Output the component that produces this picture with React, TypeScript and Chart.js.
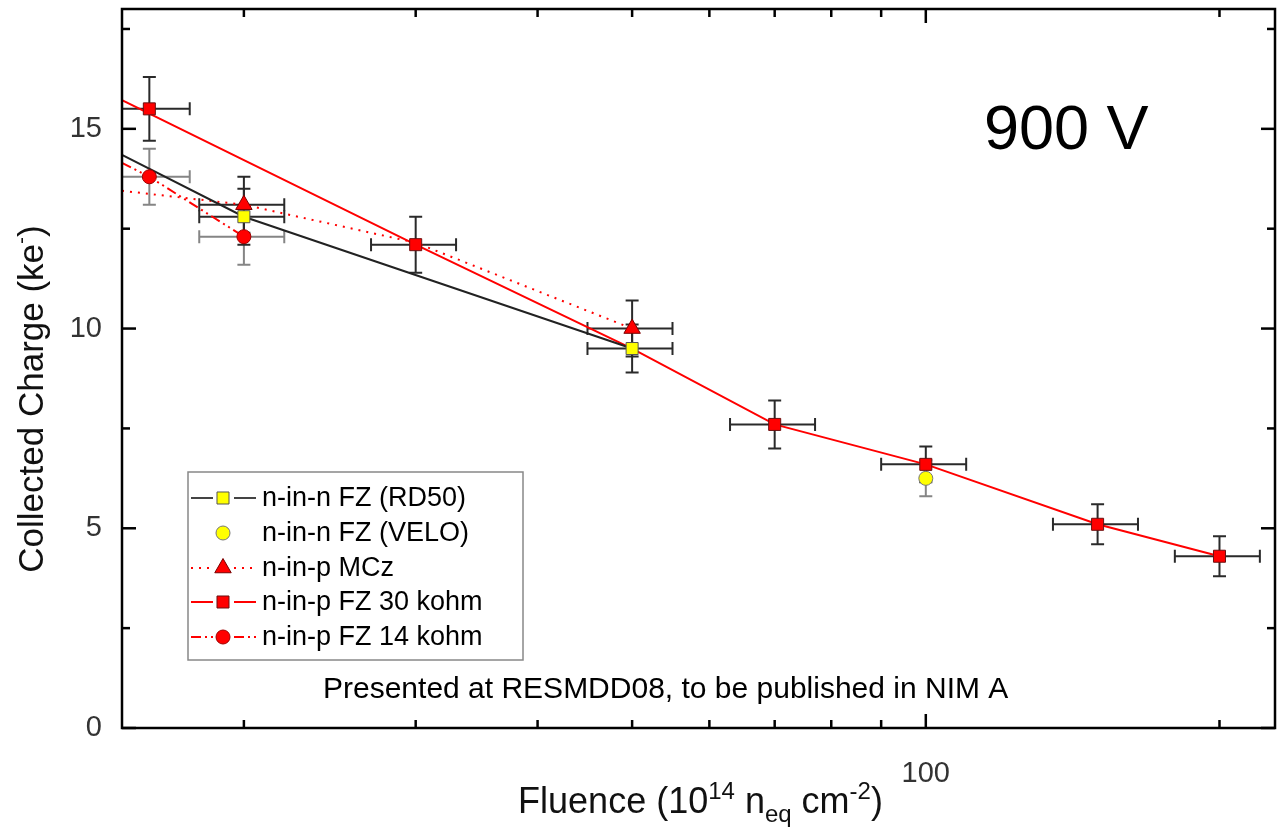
import React, { useEffect, useRef } from "react";
import { Chart, registerables } from "chart.js";
Chart.register(...registerables);

const FONT = '"Liberation Sans", Arial, Helvetica, sans-serif';

// axis ranges
const xMin = 15;
const xMax = 228;
const yMin = 0;
const yMax = 18;

// tick positions and labels
const yMajorTicks = [0, 5, 10, 15];
const yMinorTicks = [2.5, 7.5, 12.5, 17.5];
const yTickLabels = ["0", "5", "10", "15"];
const xMajorTicks = [100];
const xMinorTicks = [20, 30, 40, 50, 60, 70, 80, 90, 200];
const xTickLabels = ["100"];

// n-in-n FZ (RD50)
const rd50X = [20, 50];
const rd50Y = [12.8, 9.5];
const rd50XErr = [2, 5];
const rd50YErr = [0.7, 0.6];
const rd50LineX = [15, 20, 50];
const rd50LineY = [14.35, 12.8, 9.5];

// n-in-n FZ (VELO)
const veloX = [100];
const veloY = [6.25];
const veloXErr = [0];
const veloYErr = [0.45];

// n-in-p MCz
const mczX = [20, 50];
const mczY = [13.1, 10.0];
const mczXErr = [2, 5];
const mczYErr = [0.7, 0.7];
const mczLineX = [15, 20, 30, 50];
const mczLineY = [13.45, 13.1, 12.15, 10.0];

// n-in-p FZ 30 kohm
const fz30X = [16, 30, 70, 100, 150, 200];
const fz30Y = [15.5, 12.1, 7.6, 6.6, 5.1, 4.3];
const fz30XErr = [1.6, 3, 7, 10, 15, 20];
const fz30YErr = [0.8, 0.7, 0.6, 0.45, 0.5, 0.5];
const fz30LineX = [15, 30, 50, 70, 100, 150, 200];
const fz30LineY = [15.72, 12.1, 9.5, 7.6, 6.6, 5.1, 4.3];

// n-in-p FZ 14 kohm
const fz14X = [16, 20];
const fz14Y = [13.8, 12.3];
const fz14XErr = [1.6, 2];
const fz14YErr = [0.7, 0.7];
const fz14LineX = [15, 16, 20];
const fz14LineY = [14.15, 13.8, 12.3];

const legendLabels = [
  "n-in-n FZ (RD50)",
  "n-in-n FZ (VELO)",
  "n-in-p MCz",
  "n-in-p FZ 30 kohm",
  "n-in-p FZ 14 kohm",
];

const RED = "#ff0000";
const YELLOW = "#ffff00";
const DARK = "#2a2a2a";
const GRAY = "#858585";

// target plot-area edges in the 1278x829 page
const AREA = { left: 122, top: 9, right: 1275, bottom: 728 };

const pts = (xs: number[], ys: number[]) => xs.map((x, i) => ({ x, y: ys[i] }));

const errorSeries = [
  { x: fz14X, y: fz14Y, xe: fz14XErr, ye: fz14YErr, color: GRAY },
  { x: fz30X, y: fz30Y, xe: fz30XErr, ye: fz30YErr, color: DARK },
  { x: mczX, y: mczY, xe: mczXErr, ye: mczYErr, color: DARK },
  { x: veloX, y: veloY, xe: veloXErr, ye: veloYErr, color: GRAY },
  { x: rd50X, y: rd50Y, xe: rd50XErr, ye: rd50YErr, color: DARK },
];

type Marker = { style: string; r: number; fill: string; edge: string };
const markers: Marker[] = [
  { style: "rect", r: 8.5, fill: YELLOW, edge: "#555555" },
  { style: "circle", r: 7, fill: YELLOW, edge: "#777777" },
  { style: "triangle", r: 9.5, fill: RED, edge: "#7a0000" },
  { style: "rect", r: 8.5, fill: RED, edge: "#6a1010" },
  { style: "circle", r: 7, fill: RED, edge: "#a00000" },
];
const legendLines: (null | { color: string; dash: number[] })[] = [
  { color: "#444444", dash: [] },
  null,
  { color: RED, dash: [2, 6] },
  { color: RED, dash: [] },
  { color: RED, dash: [10, 4, 2, 4, 2, 4] },
];

function drawMarker(ctx: CanvasRenderingContext2D, m: Marker, x: number, y: number) {
  ctx.save();
  ctx.fillStyle = m.fill;
  ctx.strokeStyle = m.edge;
  ctx.lineWidth = 1;
  ctx.setLineDash([]);
  ctx.beginPath();
  if (m.style === "rect") {
    const s = Math.SQRT1_2 * m.r;
    ctx.rect(x - s, y - s, 2 * s, 2 * s);
  } else if (m.style === "circle") {
    ctx.arc(x, y, m.r, 0, Math.PI * 2);
  } else {
    ctx.moveTo(x, y - m.r);
    ctx.lineTo(x + m.r * Math.sin(Math.PI / 3), y + m.r / 2);
    ctx.lineTo(x - m.r * Math.sin(Math.PI / 3), y + m.r / 2);
    ctx.closePath();
  }
  ctx.fill();
  ctx.stroke();
  ctx.restore();
}

type Part = { t: string; s: number; dy: number };
function drawRich(ctx: CanvasRenderingContext2D, parts: Part[], x: number, y: number, align: "left" | "center") {
  let total = 0;
  for (const p of parts) {
    ctx.font = `${p.s}px ${FONT}`;
    total += ctx.measureText(p.t).width;
  }
  let cx = align === "center" ? x - total / 2 : x;
  ctx.textAlign = "left";
  ctx.textBaseline = "alphabetic";
  for (const p of parts) {
    ctx.font = `${p.s}px ${FONT}`;
    ctx.fillText(p.t, cx, y + p.dy);
    cx += ctx.measureText(p.t).width;
  }
}

const errorBarPlugin = {
  id: "errorBars",
  beforeDatasetsDraw(chart: any) {
    const { ctx, chartArea: a, scales } = chart;
    const xs = scales.x;
    const ys = scales.y;
    ctx.save();
    ctx.beginPath();
    ctx.rect(a.left, a.top, a.right - a.left, a.bottom - a.top);
    ctx.clip();
    ctx.lineWidth = 2;
    const cap = 6.5;
    for (const s of errorSeries) {
      ctx.strokeStyle = s.color;
      s.x.forEach((xv: number, i: number) => {
        const px = xs.getPixelForValue(xv);
        const py = ys.getPixelForValue(s.y[i]);
        const yt = ys.getPixelForValue(s.y[i] + s.ye[i]);
        const yb = ys.getPixelForValue(s.y[i] - s.ye[i]);
        ctx.beginPath();
        ctx.moveTo(px, yt);
        ctx.lineTo(px, yb);
        ctx.moveTo(px - cap, yt);
        ctx.lineTo(px + cap, yt);
        ctx.moveTo(px - cap, yb);
        ctx.lineTo(px + cap, yb);
        if (s.xe[i] > 0) {
          const xl = xs.getPixelForValue(xv - s.xe[i]);
          const xr = xs.getPixelForValue(xv + s.xe[i]);
          ctx.moveTo(xl, py);
          ctx.lineTo(xr, py);
          ctx.moveTo(xl, py - cap);
          ctx.lineTo(xl, py + cap);
          ctx.moveTo(xr, py - cap);
          ctx.lineTo(xr, py + cap);
        }
        ctx.stroke();
      });
    }
    ctx.restore();
  },
};

const framePlugin = {
  id: "frame",
  afterDraw(chart: any) {
    const { ctx, chartArea: a, scales } = chart;
    const xs = scales.x;
    const ys = scales.y;
    ctx.save();
    // frame
    ctx.strokeStyle = "#000";
    ctx.lineWidth = 2.5;
    ctx.setLineDash([]);
    ctx.strokeRect(a.left, a.top, a.right - a.left, a.bottom - a.top);
    // ticks
    const tick = (x1: number, y1: number, x2: number, y2: number) => {
      ctx.beginPath();
      ctx.moveTo(x1, y1);
      ctx.lineTo(x2, y2);
      ctx.stroke();
    };
    const maj = 14;
    const min = 8;
    yMajorTicks.forEach((v) => {
      const py = ys.getPixelForValue(v);
      tick(a.left, py, a.left + maj, py);
      tick(a.right, py, a.right - maj, py);
    });
    yMinorTicks.forEach((v) => {
      const py = ys.getPixelForValue(v);
      tick(a.left, py, a.left + min, py);
      tick(a.right, py, a.right - min, py);
    });
    xMajorTicks.forEach((v) => {
      const px = xs.getPixelForValue(v);
      tick(px, a.bottom, px, a.bottom - maj);
      tick(px, a.top, px, a.top + maj);
    });
    xMinorTicks.forEach((v) => {
      const px = xs.getPixelForValue(v);
      tick(px, a.bottom, px, a.bottom - min);
      tick(px, a.top, px, a.top + min);
    });
    // tick labels
    ctx.fillStyle = "#333";
    ctx.font = `29px ${FONT}`;
    ctx.textAlign = "right";
    ctx.textBaseline = "middle";
    yMajorTicks.forEach((v, i) => {
      ctx.fillText(yTickLabels[i], a.left - 20, ys.getPixelForValue(v));
    });
    ctx.textAlign = "center";
    ctx.textBaseline = "alphabetic";
    xMajorTicks.forEach((v, i) => {
      ctx.fillText(xTickLabels[i], xs.getPixelForValue(v), a.bottom + 54);
    });

    // axis titles
    ctx.fillStyle = "#111";
    drawRich(
      ctx,
      [
        { t: "Fluence (10", s: 36, dy: 0 },
        { t: "14", s: 24, dy: -14 },
        { t: " n", s: 36, dy: 0 },
        { t: "eq", s: 24, dy: 9 },
        { t: " cm", s: 36, dy: 0 },
        { t: "-2", s: 24, dy: -14 },
        { t: ")", s: 36, dy: 0 },
      ],
      (a.left + a.right) / 2 + 2,
      813,
      "center"
    );
    ctx.save();
    ctx.translate(43, 399);
    ctx.rotate(-Math.PI / 2);
    drawRich(
      ctx,
      [
        { t: "Collected Charge (ke", s: 35, dy: 0 },
        { t: "-", s: 21, dy: -15 },
        { t: ")", s: 35, dy: 0 },
      ],
      0,
      0,
      "center"
    );
    ctx.restore();

    // annotations
    ctx.fillStyle = "#000";
    ctx.font = `63px ${FONT}`;
    ctx.textAlign = "left";
    ctx.textBaseline = "alphabetic";
    ctx.fillText("900 V", 984, 149);
    ctx.font = `30px ${FONT}`;
    ctx.fillText("Presented at RESMDD08, to be published in NIM A", 323, 698);

    // legend
    const bx = 188, by = 472, bw = 335, bh = 188;
    ctx.fillStyle = "#fff";
    ctx.fillRect(bx, by, bw, bh);
    ctx.strokeStyle = "#888";
    ctx.lineWidth = 1.5;
    ctx.strokeRect(bx, by, bw, bh);
    const rowY = [498, 533, 568, 602, 637];
    legendLabels.forEach((lab, i) => {
      const y = rowY[i];
      const ln = legendLines[i];
      if (ln) {
        ctx.save();
        ctx.strokeStyle = ln.color;
        ctx.lineWidth = 1.8;
        ctx.setLineDash(ln.dash);
        ctx.beginPath();
        ctx.moveTo(191, y);
        ctx.lineTo(213, y);
        ctx.moveTo(234, y);
        ctx.lineTo(256, y);
        ctx.stroke();
        ctx.restore();
      }
      drawMarker(ctx, markers[i], 223, y);
      ctx.fillStyle = "#000";
      ctx.font = `27px ${FONT}`;
      ctx.textAlign = "left";
      ctx.textBaseline = "middle";
      ctx.fillText(lab, 262, y + 1);
    });
    ctx.restore();
  },
};

export default function App() {
  const ref = useRef<HTMLCanvasElement>(null);
  useEffect(() => {
    document.body.style.margin = "0";
    const canvas = ref.current!;
    const markerDs = [
      { d: pts(rd50X, rd50Y), m: markers[0] },
      { d: pts(veloX, veloY), m: markers[1] },
      { d: pts(mczX, mczY), m: markers[2] },
      { d: pts(fz30X, fz30Y), m: markers[3] },
      { d: pts(fz14X, fz14Y), m: markers[4] },
    ].map((o, i) => ({
      label: legendLabels[i],
      data: o.d,
      showLine: false,
      pointStyle: o.m.style,
      pointRadius: o.m.r,
      pointBackgroundColor: o.m.fill,
      pointBorderColor: o.m.edge,
      pointBorderWidth: 1,
    }));
    const lineDs = [
      { d: pts(rd50LineX, rd50LineY), c: "#222222", dash: [] as number[] },
      { d: pts(mczLineX, mczLineY), c: RED, dash: [2, 6] },
      { d: pts(fz30LineX, fz30LineY), c: RED, dash: [] as number[] },
      { d: pts(fz14LineX, fz14LineY), c: RED, dash: [10, 4, 2, 4, 2, 4] },
    ].map((o) => ({
      label: "",
      data: o.d,
      showLine: true,
      borderColor: o.c,
      borderWidth: 2,
      borderDash: o.dash,
      pointRadius: 0,
      fill: false,
      tension: 0,
    }));
    const chart = new Chart(canvas, {
      type: "scatter",
      data: { datasets: [...markerDs, ...lineDs] as any },
      options: {
        responsive: false,
        animation: false,
        devicePixelRatio: 1,
        layout: {
          autoPadding: false,
          padding: {
            left: AREA.left,
            top: AREA.top,
            right: 1278 - AREA.right,
            bottom: 829 - AREA.bottom,
          },
        },
        plugins: { legend: { display: false }, tooltip: { enabled: false } },
        scales: {
          x: {
            type: "logarithmic",
            min: xMin,
            max: xMax,
            grid: { display: false },
            border: { display: false },
            ticks: { display: false },
            afterFit: (s: any) => {
              s.height = 0;
            },
          },
          y: {
            type: "linear",
            min: yMin,
            max: yMax,
            grid: { display: false },
            border: { display: false },
            ticks: { display: false },
            afterFit: (s: any) => {
              s.width = 0;
            },
          },
        },
      } as any,
      plugins: [errorBarPlugin, framePlugin],
    });
    return () => chart.destroy();
  }, []);
  return (
    <canvas
      ref={ref}
      width={1278}
      height={829}
      style={{ display: "block", width: 1278, height: 829 }}
    />
  );
}
